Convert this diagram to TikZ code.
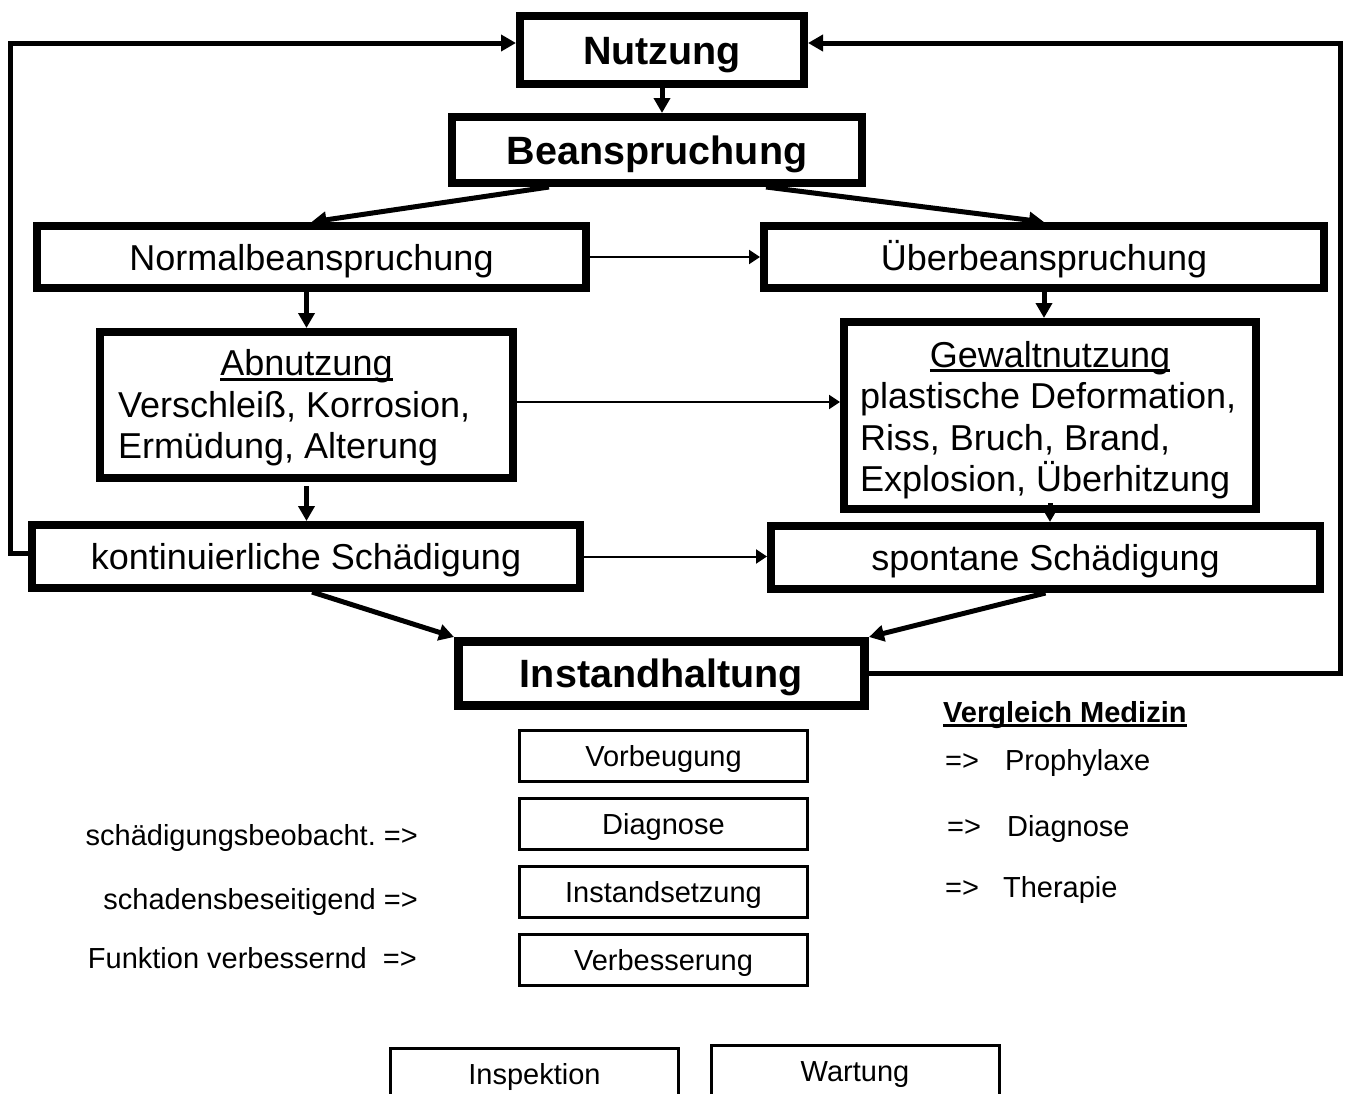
\documentclass[tikz,border=0pt]{standalone}
\usepackage{fontspec}
\setmainfont{Liberation Sans}
\usetikzlibrary{arrows.meta, positioning}
\frenchspacing

\newcommand{\ulword}[1]{\setbox0\hbox{#1}\rlap{\rule[-0.14em]{\wd0}{0.08em}}\box0}

\tikzset{
  boxline/.style={draw, line width=8pt, inner sep=0pt, font=\fontsize{36}{41.5}\selectfont},
  bigbox/.style={boxline, text height=26pt, text depth=0pt},
  headbox/.style={boxline, text height=28.4pt, text depth=0pt, font=\fontsize{39.5}{44}\selectfont\bfseries},
  listbox/.style={boxline, align=left, execute at begin node={\spaceskip=0pt\xspaceskip=0pt}},
  smallbox/.style={draw, line width=3pt, inner sep=0pt, minimum width=288pt, minimum height=51pt, text height=21pt, text depth=0pt, font=\fontsize{29}{34}\selectfont},
  sidenote/.style={inner sep=0pt, text height=21pt, text depth=0pt, font=\fontsize{29}{34}\selectfont},
  flow/.style={line width=5pt, -{Triangle[length=15pt, width=16pt]}},
  sideflow/.style={line width=2pt, -{Triangle[length=11pt, width=14pt]}},
  feedback/.style={line width=5pt, line join=miter, -{Triangle[length=15pt, width=16pt]}},
}

\begin{document}
\begin{tikzpicture}[x=1pt, y=-1pt]
    \useasboundingbox (0,0) rectangle (1347,1093);
    \fill[white] (0,0) rectangle (1347,1093);

    % main chain
    \node[headbox, minimum width=284pt, minimum height=68pt] (nutz) at (662,50) {Nutzung};
    \node[headbox, minimum width=410pt, minimum height=66pt] (bean) at (657,150) {Beanspruchung};
    \node[bigbox, minimum width=549pt, minimum height=62pt] (normal) at (311.5,257) {Normalbeanspruchung};
    \node[bigbox, minimum width=560pt, minimum height=62pt] (ueber) at (1044,257) {Überbeanspruchung};
    \node[listbox, inner xsep=18pt, text width=377pt, minimum height=146pt] (abn) at (306.5,405)
        {\noindent\hbox to\hsize{\rule{0pt}{32pt}\hfil\ulword{Abnutzung}\hfil}\\
         Verschleiß, Korrosion,\\
         Ermüdung, Alterung};
    \node[listbox, inner xsep=16pt, text width=380pt, minimum height=187pt] (gew) at (1050,415.5)
        {\noindent\hbox to\hsize{\rule{0pt}{35pt}\hfil\ulword{Gewaltnutzung}\hfil}\\
         plastische~Deformation,\\
         Riss, Bruch, Brand,\\
         Explosion,~Überhitzung};
    \node[bigbox, minimum width=548pt, minimum height=63pt] (kont) at (306,556.5) {kontinuierliche Schädigung};
    \node[bigbox, minimum width=549pt, minimum height=63pt] (spont) at (1045.5,557.5) {spontane Schädigung};
    \node[headbox, line width=9pt, minimum width=406pt, minimum height=64pt] (inst) at (661.5,673.5) {Instandhaltung};

    % connectors
    \draw[flow] (nutz.south) -- (nutz.south |- bean.north);
    \draw[flow] ([xshift=-108pt]bean.south) -- (normal.north);
    \draw[flow] ([xshift=109pt]bean.south) -- (ueber.north);
    \draw[sideflow] (normal.east) -- (ueber.west);
    \draw[flow] (abn.north |- normal.south) -- (abn.north);
    \draw[flow] (ueber.south) -- (ueber.south |- gew.north);
    \coordinate (abnout) at ([yshift=3pt]abn.east);
    \draw[sideflow] (abnout) -- (abnout -| gew.west);
    \draw[flow] ([yshift=-4pt]abn.south) -- (abn.south |- kont.north);
    \draw[flow] ([yshift=10pt]gew.south) -- (gew.south |- spont.north);
    \draw[sideflow] (kont.east) -- (kont.east -| spont.west);
    \draw[flow] ([xshift=6pt]kont.south) -- (inst.north west);
    \draw[flow] (spont.south) -- (inst.north east);

    % feedback loops
    \draw[feedback] ([yshift=3pt]kont.west) -- ++(-18,0) |- ([yshift=7pt]nutz.west);
    \draw[feedback] (inst.east) -- ++(471,0) |- ([yshift=7pt]nutz.east);

    % measures
    \foreach \name/\yy/\txt in {vorb/756/Vorbeugung, diag/824/Diagnose, setz/892/Instandsetzung, verb/960/Verbesserung}
        \node[smallbox] (\name) at (663.5,\yy) {\txt};

    \node[sidenote, anchor=east] (obs) at (418,835) {schädigungsbeobacht. =>};
    \node[sidenote, anchor=east] (repair) at (418,899) {schadensbeseitigend =>};
    \node[sidenote, anchor=east] (improve) at (417,958) {Funktion verbessernd\ \ =>};

    % comparison
    \node[sidenote, font=\fontsize{29}{34}\selectfont\bfseries, anchor=west] (vgl) at (943,712) {\ulword{Vergleich Medizin}};
    \node[sidenote, anchor=west] (proph) at (945,760) {=>\hspace{26pt}Prophylaxe};
    \node[sidenote, anchor=west] (meddiag) at (947,826) {=>\hspace{26pt}Diagnose};
    \node[sidenote, anchor=west] (ther) at (945,887) {=>\hspace{24pt}Therapie};

    % cut-off boxes
    \node[smallbox] (insp) at (534.5,1074) {Inspektion};
    \node[smallbox] (wart) at (855,1071) {Wartung};
\end{tikzpicture}
\end{document}
